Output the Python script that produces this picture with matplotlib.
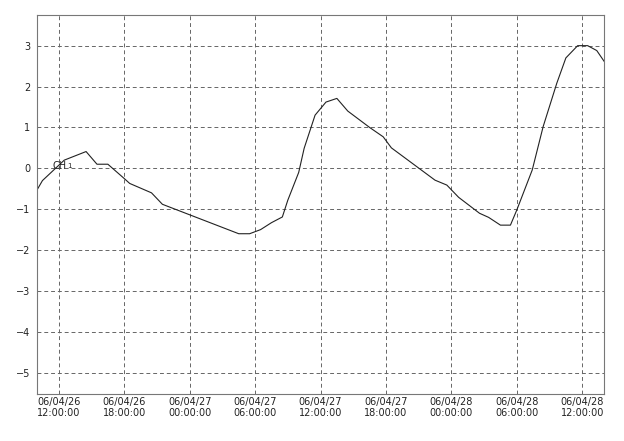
import pandas as pd
import matplotlib
matplotlib.use('Agg')
import matplotlib.pyplot as plt
import matplotlib.dates as mdates

# readings of CH 1 (time, value)
times = ['2006-04-26 10:00', '2006-04-26 10:30', '2006-04-26 12:30', '2006-04-26 14:30',
         '2006-04-26 15:30', '2006-04-26 16:30', '2006-04-26 18:00', '2006-04-26 18:30',
         '2006-04-26 20:30', '2006-04-26 21:30', '2006-04-27 04:30', '2006-04-27 05:30',
         '2006-04-27 06:30', '2006-04-27 07:30', '2006-04-27 08:30', '2006-04-27 09:00',
         '2006-04-27 10:00', '2006-04-27 10:30', '2006-04-27 11:30', '2006-04-27 12:30',
         '2006-04-27 13:30', '2006-04-27 14:30', '2006-04-27 16:30', '2006-04-27 17:45',
         '2006-04-27 18:30', '2006-04-27 22:30', '2006-04-27 23:35', '2006-04-28 00:40',
         '2006-04-28 02:35', '2006-04-28 03:25', '2006-04-28 04:30', '2006-04-28 05:25',
         '2006-04-28 06:00', '2006-04-28 07:25', '2006-04-28 08:25', '2006-04-28 09:40',
         '2006-04-28 10:30', '2006-04-28 11:35', '2006-04-28 12:30', '2006-04-28 13:20',
         '2006-04-28 14:00']
values = [-0.53, -0.30, 0.20, 0.41,
          0.10, 0.10, -0.25, -0.37,
          -0.60, -0.88, -1.60, -1.60,
          -1.50, -1.33, -1.19, -0.78,
          -0.10, 0.49, 1.30, 1.62,
          1.71, 1.40, 1.00, 0.77,
          0.50, -0.29, -0.41, -0.71,
          -1.10, -1.20, -1.39, -1.39,
          -1.02, -0.04, 1.02, 2.08,
          2.70, 3.00, 3.00, 2.88,
          2.62]
yticks = [-5, -4, -3, -2, -1, 0, 1, 2, 3]
xticks = ['2006-04-26 12:00', '2006-04-26 18:00', '2006-04-27 00:00', '2006-04-27 06:00',
          '2006-04-27 12:00', '2006-04-27 18:00', '2006-04-28 00:00', '2006-04-28 06:00',
          '2006-04-28 12:00']

t = pd.to_datetime(times)
xt = pd.to_datetime(xticks)

fig = plt.figure(figsize=(6.24, 4.41), dpi=100)
ax = fig.add_axes([0.0593, 0.1066, 0.9087, 0.8594])
ax.plot(t, values, color='#222222', lw=0.8)
ax.text(pd.Timestamp('2006-04-26 11:27'), 0.05, 'CH', fontsize=7, va='center', color='#222222')
ax.text(pd.Timestamp('2006-04-26 12:45'), 0.05, '1', fontsize=5, va='center', color='#222222')

ax.set_xlim(pd.Timestamp('2006-04-26 10:00'), pd.Timestamp('2006-04-28 14:00'))
ax.set_ylim(-5.52, 3.75)
ax.set_yticks(yticks)
ax.set_xticks(xt)
ax.xaxis.set_major_formatter(mdates.DateFormatter('%y/%m/%d\n%H:%M:%S'))
ax.tick_params(length=0, labelsize=7, colors='#222222')
ax.tick_params(axis='x', pad=2)
ax.tick_params(axis='y', pad=5)
ax.grid(True, color='#666666', ls=(0, (4, 3)), lw=0.7)
for s in ax.spines.values():
    s.set_color('#777777')
    s.set_linewidth(0.8)

plt.savefig('out.png', dpi=100)
